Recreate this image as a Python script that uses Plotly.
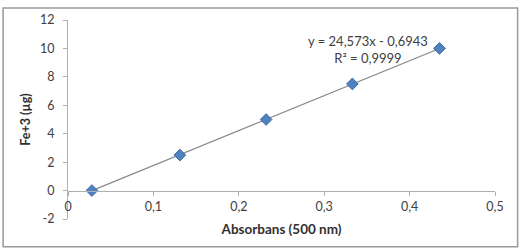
import plotly.graph_objects as go

# Data
absorbance = [0.028, 0.131, 0.232, 0.333, 0.435]
fe_ug = [0, 2.5, 5, 7.5, 10]

# Trendline parameters as printed on the chart
slope = 24.573
intercept = -0.6943
eq_text = "y = 24,573x - 0,6943"
r2_text = "R² = 0,9999"

y_ticks = [-2, 0, 2, 4, 6, 8, 10, 12]
y_tick_labels = ["-2", "0", "2", "4", "6", "8", "10", "12"]

trend_x = [min(absorbance), max(absorbance)]
trend_y = [slope * x + intercept for x in trend_x]

font_family = "Lato, Liberation Sans, sans-serif"
txt_col = "#404040"

fig = go.Figure()
fig.add_trace(go.Scatter(
    x=trend_x, y=trend_y, mode="lines",
    line=dict(color="#8a8a8a", width=1.2),
    hoverinfo="skip", showlegend=False))
fig.add_trace(go.Scatter(
    x=absorbance, y=fe_ug, mode="markers",
    marker=dict(symbol="diamond", size=9, color="#4F81BD",
                line=dict(color="#3B6CA8", width=1)),
    showlegend=False))

fig.add_annotation(
    x=0.351, y=9.96, xref="x", yref="y",
    text=eq_text + "<br>" + r2_text,
    showarrow=False, xanchor="center", yanchor="middle", align="center",
    font=dict(family=font_family, size=13, color=txt_col))

fig.update_layout(
    width=524, height=251,
    margin=dict(l=68, r=29, t=18, b=32),
    paper_bgcolor="white", plot_bgcolor="white",
    separators=", ",
    font=dict(family=font_family, size=12.5, color=txt_col),
    shapes=[dict(type="rect", xref="paper", yref="paper",
                 x0=-0.152, x1=1.053, y0=-0.14, y1=1.06,
                 line=dict(color="#9a9a9a", width=1.5), layer="below")],
)

fig.update_xaxes(
    range=[0, 0.5], dtick=0.1, tick0=0,
    anchor="free", position=2 / 14,
    showline=True, linecolor="#b0b0b0", linewidth=1,
    ticks="outside", ticklen=4, tickcolor="#b0b0b0",
    showgrid=False, zeroline=False,
    title=dict(text="<b>Absorbans (500 nm)</b>", standoff=11,
               font=dict(family=font_family, size=13.5, color="#303030")),
)
fig.update_yaxes(
    range=[-2, 12], tickvals=y_ticks, ticktext=y_tick_labels,
    showline=True, linecolor="#b0b0b0", linewidth=1,
    ticks="outside", ticklen=4, tickcolor="#b0b0b0",
    ticklabelstandoff=6,
    showgrid=False, zeroline=False,
    title=dict(text="<b>Fe+3 (µg)</b>", standoff=6,
               font=dict(family=font_family, size=12.5, color="#303030")),
)

fig.write_html("out.html")
